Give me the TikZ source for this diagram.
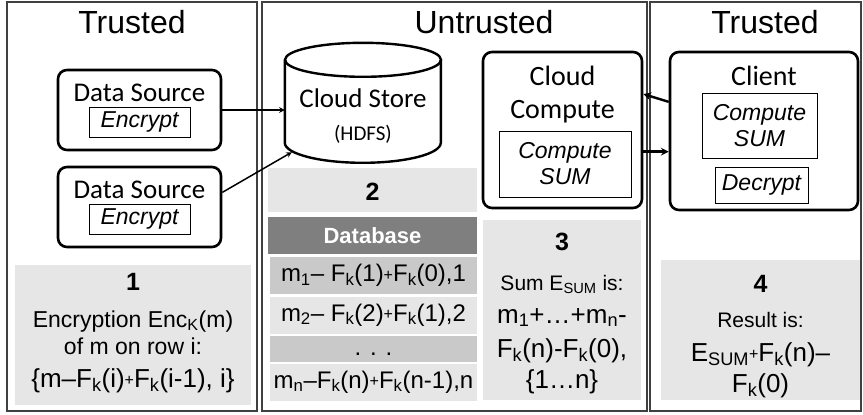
\documentclass[tikz,border=0pt]{standalone}
\usepackage{fontspec}
\setmainfont{Liberation Sans}
\newfontfamily\calibri{Carlito}
\definecolor{lightbox}{RGB}{230,230,230}
\definecolor{midbox}{RGB}{201,201,201}
\definecolor{headbox}{RGB}{127,127,127}
\newcommand{\fs}[1]{\fontsize{#1}{#1}\selectfont}
\newcommand{\splus}{\raisebox{1.5pt}{\fs{16}+}}
\tikzset{
  panel/.style={draw=black!75,line width=1.1pt},
  title/.style={font=\fs{32},anchor=base},
  unit/.style={draw,line width=2.6pt,rounded corners=9pt,inner sep=0pt},
  unitlabel/.style={font=\calibri\fs{27},anchor=base},
  task/.style={draw,line width=0.8pt,inner sep=0pt,font=\itshape\fs{23},text height=16pt,text depth=5pt},
  tasktwo/.style={draw,line width=0.8pt,inner sep=0pt,align=center,font=\itshape\fontsize{23}{26}\selectfont},
  greybox/.style={fill=lightbox,inner sep=0pt},
  stepnum/.style={font=\bfseries\fs{25},anchor=base},
  steptext/.style={font=\fs{23},anchor=base},
  dbrow/.style={inner sep=0pt,minimum width=207pt,minimum height=37pt,font=\fs{24},text height=17pt,text depth=5pt},
  feed/.style={->,line width=1.5pt},
  query/.style={->,line width=2.4pt}
}
\begin{document}
\begin{tikzpicture}[x=1pt,y=-1pt,>=stealth]
\useasboundingbox (0,0) rectangle (863,415);
% three zones
\draw[panel] (7,2) rectangle (257,411);
\draw[panel] (262,2) rectangle (647,411);
\draw[panel] (650,2) rectangle (861,411);
\node[title] (trustA) at (132,33) {Trusted};
\node[title] (untrust) at (484,33) {Untrusted};
\node[title] (trustB) at (765,33) {Trusted};

% data sources
\node[unit,minimum width=163pt,minimum height=80pt] (ds1) at (139.5,110) {};
\node[unitlabel] (ds1t) at (139.5,101) {Data Source};
\node[task,minimum width=101pt,minimum height=30pt] (ds1e) at (139.5,122) {Encrypt};
\node[unit,minimum width=163pt,minimum height=80pt] (ds2) at (139.5,207) {};
\node[unitlabel] (ds2t) at (139.5,198) {Data Source};
\node[task,minimum width=101pt,minimum height=30pt] (ds2e) at (139.5,219) {Encrypt};

% step 1
\node[greybox,minimum width=236pt,minimum height=140pt] (s1) at (133,335) {};
\node[stepnum] (s1n) at (133,290) {1};
\node[steptext] (s1a) at (133,327) {Encryption Enc\textsubscript{K}(m)};
\node[steptext] (s1b) at (133,354) {of m on row i:};
\node[steptext,font=\fs{26}] (s1c) at (133,387) {\{m–F\textsubscript{k}(i)\splus F\textsubscript{k}(i-1), i\}};

% cloud store
\node[minimum width=156pt,minimum height=120pt,inner sep=0pt] (store) at (363,103) {};
\draw[line width=2.4pt] (store.north) ++(0,17) ellipse [x radius=78pt,y radius=17pt];
\draw[line width=2.4pt] (store.north west) ++(0,17) -- ++(0,83)
  arc[start angle=180,end angle=360,x radius=78pt,y radius=20pt] -- ++(0,-83);
\node[unitlabel] (storet) at (363,107) {Cloud Store};
\node[unitlabel,font=\calibri\fs{21}] (storeh) at (363,140) {(HDFS)};
\draw[feed] (ds1.east) -- (ds1.east -| store.west);
\draw[feed] (ds2.10) -- ([xshift=7pt,yshift=11pt]store.south west);

% step 2 and database
\node[greybox,minimum width=209pt,minimum height=44pt] (s2) at (372.5,190) {};
\node[stepnum] (s2n) at (372.5,200) {2};
\node[fill=headbox,text=white,font=\bfseries\fs{22},minimum width=209pt,minimum height=37pt,inner sep=0pt] (db) at (372.5,235.5) {Database};
\node[dbrow,fill=midbox] (row1) at (373.5,275.5) {m\textsubscript{1}– F\textsubscript{k}(1)\splus F\textsubscript{k}(0),1};
\node[dbrow,fill=lightbox] (row2) at (373.5,315) {m\textsubscript{2}– F\textsubscript{k}(2)\splus F\textsubscript{k}(1),2};
\node[dbrow,fill=midbox,minimum height=26pt] (row3) at (373.5,349) {. . .};
\node[dbrow,fill=lightbox] (row4) at (373.5,382) {m\textsubscript{n}–F\textsubscript{k}(n)\splus F\textsubscript{k}(n-1),n};

% cloud compute
\node[unit,minimum width=159pt,minimum height=156pt] (cc) at (562.5,130) {};
\node[unitlabel,font=\calibri\fs{28}] (cct1) at (562.5,85) {Cloud};
\node[unitlabel,font=\calibri\fs{28}] (cct2) at (562.5,118) {Compute};
\node[tasktwo,minimum width=132pt,minimum height=66pt] (ccsum) at (565,164) {Compute\\SUM};

% step 3
\node[greybox,minimum width=158pt,minimum height=180pt] (s3) at (562,310) {};
\node[stepnum] (s3n) at (562,250) {3};
\node[steptext,font=\fs{21}] (s3a) at (562,290) {Sum E\textsubscript{SUM} is:};
\node[steptext,font=\fs{26}] (s3b) at (562,323) {m\textsubscript{1}+…+m\textsubscript{n}-};
\node[steptext,font=\fs{26}] (s3c) at (562,357) {F\textsubscript{k}(n)-F\textsubscript{k}(0),};
\node[steptext,font=\fs{26}] (s3d) at (562,388) {\{1…n\}};

% client
\node[unit,minimum width=188pt,minimum height=158pt] (client) at (764,131) {};
\node[unitlabel,font=\calibri\fs{28}] (clientt) at (764,85) {Client};
\node[tasktwo,minimum width=115pt,minimum height=65pt] (clsum) at (759.5,125.5) {Compute\\SUM};
\node[task,minimum width=93pt,minimum height=36pt] (cldec) at (761.5,185) {Decrypt};
\draw[query] (client.163) -- (cc.24);
\draw[query] (cc.-15) -- (cc.-15 -| client.west);

% step 4
\node[greybox,minimum width=199pt,minimum height=140pt] (s4) at (760.5,330) {};
\node[stepnum] (s4n) at (760.5,292) {4};
\node[steptext,font=\fs{21}] (s4a) at (760.5,327) {Result is:};
\node[steptext,font=\fs{26}] (s4b) at (760.5,361) {E\textsubscript{SUM}\splus F\textsubscript{k}(n)–};
\node[steptext,font=\fs{26}] (s4c) at (760.5,392) {F\textsubscript{k}(0)};
\end{tikzpicture}
\end{document}
